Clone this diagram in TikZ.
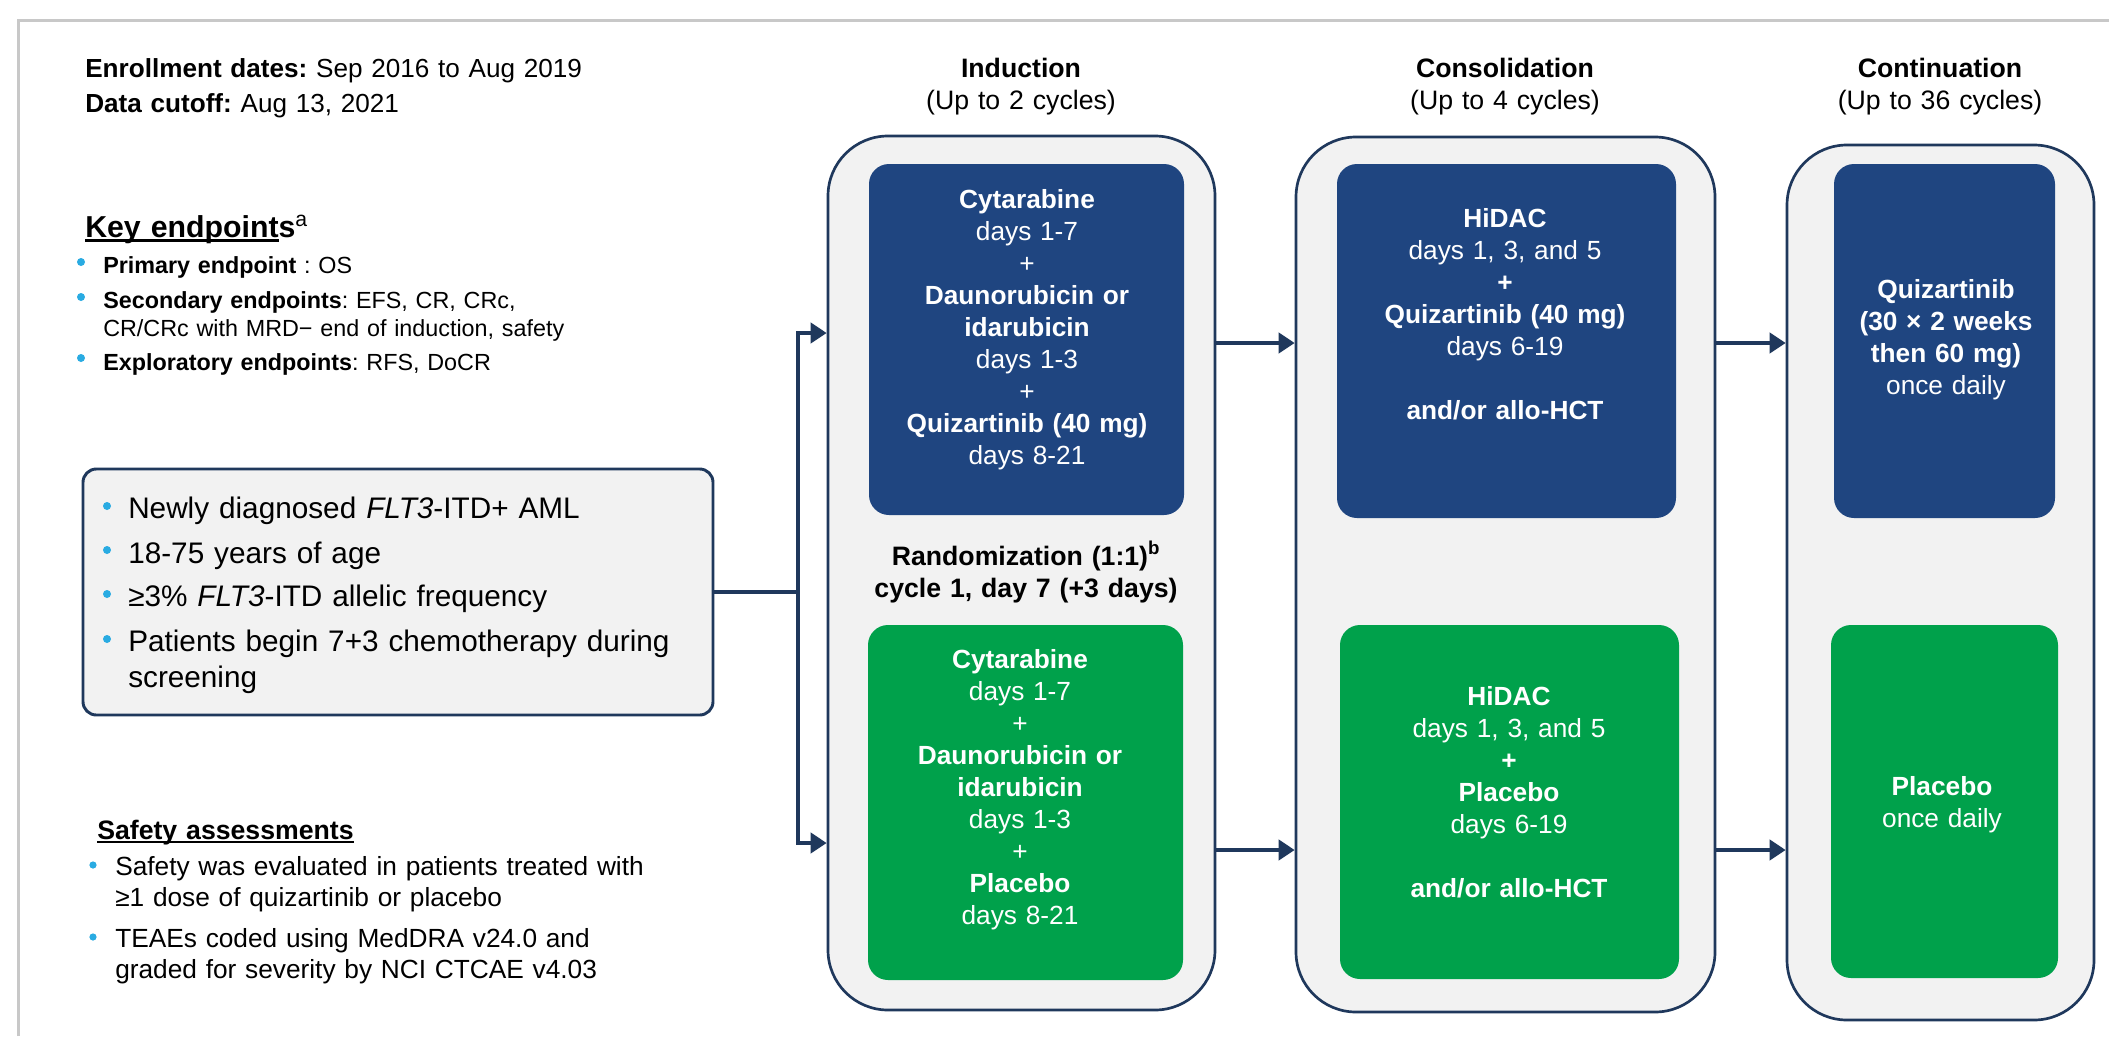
\documentclass[tikz,border=0pt]{standalone}
\usepackage{fontspec}
\setmainfont{Liberation Sans}
\usepackage{xcolor}
\usetikzlibrary{arrows.meta}
\frenchspacing

\definecolor{navyline}{RGB}{31,56,92}
\definecolor{navyfill}{RGB}{31,69,128}
\definecolor{armgreen}{RGB}{0,161,75}
\definecolor{panelgray}{RGB}{242,242,242}
\definecolor{bulletblue}{RGB}{41,171,226}
\definecolor{framegray}{RGB}{200,200,200}

% underline with a fixed depth
\newcommand{\ulbar}[1]{\setbox0\hbox{#1}\rlap{\rule[-0.16em]{\wd0}{0.08em}}\box0}

\tikzset{
  phasebox/.style={draw=navyline, line width=2pt, fill=panelgray, rounded corners=45pt, inner sep=0pt},
  quizbox/.style={fill=navyfill, rounded corners=15pt, inner sep=0pt},
  placbox/.style={fill=armgreen, rounded corners=15pt, inner sep=0pt},
  armtext/.style={text=white, align=center, text width=200pt, anchor=base, inner sep=0pt, font=\fontsize{19.7}{24}\selectfont},
  headtext/.style={align=center, text width=200pt, anchor=base, inner sep=0pt, font=\fontsize{20}{24}\selectfont},
  itemtext/.style={align=left, text width=520pt, anchor=base west, inner sep=0pt},
  flow/.style={draw=navyline, line width=3.4pt, -{Triangle[length=12pt,width=15pt]}}
}

\begin{document}
\begin{tikzpicture}[x=0.75pt,y=0.75pt,yscale=-1,xscale=1]
%Page and frame
\useasboundingbox (0,0) rectangle (2109,1036);
\fill[white] (0,0) rectangle (2109,1036);
\draw[framegray, line width=2.25pt] (18,1036) -- (18,20) -- (2109,20);

% Text Node
\node[itemtext, font=\fontsize{19.6}{26.25}\selectfont] (enroll) at (85,77) {\textbf{Enrollment dates:} Sep 2016 to Aug 2019\\\textbf{Data cutoff:} Aug 13, 2021};
% Text Node
\node[itemtext, font=\fontsize{22.7}{27}\selectfont\bfseries] (keyhead) at (85,237) {\ulbar{Key endpoint}s\textsuperscript{\mdseries a}};
% Text Node
\node[itemtext, font=\fontsize{17.5}{21}\selectfont] (keyA) at (103,273) {\textbf{Primary endpoint} : OS};
% Text Node
\node[itemtext, font=\fontsize{17.5}{21}\selectfont] (keyB) at (103,308) {\textbf{Secondary endpoints}: EFS, CR, CRc,\\CR/CRc with MRD− end of induction, safety};
% Text Node
\node[itemtext, font=\fontsize{17.5}{21}\selectfont] (keyC) at (103,370) {\textbf{Exploratory endpoints}: RFS, DoCR};

%Rounded Rect
\node[draw=navyline, line width=2.2pt, fill=panelgray, rounded corners=10pt, inner sep=0pt, minimum width=472.5pt, minimum height=184.5pt] (patients) at (398,592) {};
% Text Node
\node[itemtext, font=\fontsize{22.3}{27}\selectfont] (critA) at (128,518) {Newly diagnosed \textit{FLT3}-ITD+ AML};
% Text Node
\node[itemtext, font=\fontsize{22.3}{27}\selectfont] (critB) at (128,563) {18-75 years of age};
% Text Node
\node[itemtext, font=\fontsize{22.3}{27}\selectfont] (critC) at (128,606) {≥3\% \textit{FLT3}-ITD allelic frequency};
% Text Node
\node[itemtext, font=\fontsize{22.3}{27}\selectfont] (critD) at (128,651) {Patients begin 7+3 chemotherapy during\\screening};

% Text Node
\node[itemtext, font=\fontsize{20}{27}\selectfont\bfseries] (safehead) at (97,839) {\ulbar{Safety assessments}};
% Text Node
\node[itemtext, font=\fontsize{19.7}{23.6}\selectfont] (safeA) at (115,875) {Safety was evaluated in patients treated with\\≥1 dose of quizartinib or placebo};
% Text Node
\node[itemtext, font=\fontsize{19.7}{23.6}\selectfont] (safeB) at (115,947) {TEAEs coded using MedDRA v24.0 and\\graded for severity by NCI CTCAE v4.03};

%Bullets
\foreach \bx/\by/\br in {81/262/4, 81/297/4, 81/358/4, 107/506/4, 107/550/4, 107/594/4, 107/639/4, 93/865/3.6, 93/937/3.6}
  \fill[bulletblue] (\bx,\by) circle [radius=\br];

% Text Node
\node[headtext] (indTitle) at (1021,77) {\textbf{Induction}\\(Up to 2 cycles)};
% Text Node
\node[headtext] (conTitle) at (1505,77) {\textbf{Consolidation}\\(Up to 4 cycles)};
% Text Node
\node[headtext] (ctnTitle) at (1940,77) {\textbf{Continuation}\\(Up to 36 cycles)};

%Rounded Rect
\node[phasebox, minimum width=290.25pt, minimum height=655.5pt] (induction) at (1021.5,573) {};
%Rounded Rect
\node[phasebox, minimum width=314.25pt, minimum height=656.25pt] (consol) at (1505.5,574.5) {};
%Rounded Rect
\node[phasebox, minimum width=230.25pt, minimum height=656.25pt] (contin) at (1940.5,582.5) {};

%Rounded Rect
\node[quizbox, minimum width=236.25pt, minimum height=263.25pt] (indQuiz) at (1026.5,339.5) {};
%Rounded Rect
\node[placbox, minimum width=236.25pt, minimum height=266.25pt] (indPlac) at (1025.5,802.5) {};
%Rounded Rect
\node[quizbox, minimum width=254.25pt, minimum height=265.5pt] (conQuiz) at (1506.5,341) {};
%Rounded Rect
\node[placbox, minimum width=254.25pt, minimum height=265.5pt] (conPlac) at (1509.5,802) {};
%Rounded Rect
\node[quizbox, minimum width=165.75pt, minimum height=265.5pt] (ctnQuiz) at (1944.5,341) {};
%Rounded Rect
\node[placbox, minimum width=170.25pt, minimum height=264.75pt] (ctnPlac) at (1944.5,801.5) {};

% Text Node
\node[armtext] (indQuizText) at (1027,208) {\textbf{Cytarabine}\\days 1-7\\+\\\textbf{Daunorubicin or}\\\textbf{idarubicin}\\days 1-3\\+\\\textbf{Quizartinib (40 mg)}\\days 8-21};
% Text Node
\node[headtext, text width=300pt, font=\fontsize{20}{24}\selectfont\bfseries] (randNote) at (1026,565) {Randomization (1:1)\textsuperscript{b}\\cycle 1, day 7 (+3 days)};
% Text Node
\node[armtext] (indPlacText) at (1020,668) {\textbf{Cytarabine}\\days 1-7\\+\\\textbf{Daunorubicin or}\\\textbf{idarubicin}\\days 1-3\\+\\\textbf{Placebo}\\days 8-21};
% Text Node
\node[armtext] (conQuizText) at (1505,227) {\textbf{HiDAC}\\days 1, 3, and 5\\\textbf{+}\\\textbf{Quizartinib (40 mg)}\\days 6-19\\[24pt]\textbf{and/or allo-HCT}};
% Text Node
\node[armtext] (conPlacText) at (1509,705) {\textbf{HiDAC}\\days 1, 3, and 5\\\textbf{+}\\\textbf{Placebo}\\days 6-19\\[24pt]\textbf{and/or allo-HCT}};
% Text Node
\node[armtext] (ctnQuizText) at (1946,298) {\textbf{Quizartinib}\\\textbf{(30 × 2 weeks}\\\textbf{then 60 mg)}\\once daily};
% Text Node
\node[armtext] (ctnPlacText) at (1942,795) {\textbf{Placebo}\\once daily};

%Straight Lines
\coordinate (split) at (798,592);
\coordinate (armQ) at (798,333);
\coordinate (armP) at (798,843);
\coordinate (rowQ) at (0,343);
\coordinate (rowP) at (0,850);
\draw[flow] (patients.east) -- (split) |- (armQ -| induction.west);
\draw[flow] (split) |- (armP -| induction.west);
%Straight Lines
\draw[flow] (induction.east |- rowQ) -- (consol.west |- rowQ);
\draw[flow] (induction.east |- rowP) -- (consol.west |- rowP);
\draw[flow] (consol.east |- rowQ) -- (contin.west |- rowQ);
\draw[flow] (consol.east |- rowP) -- (contin.west |- rowP);
\end{tikzpicture}
\end{document}
